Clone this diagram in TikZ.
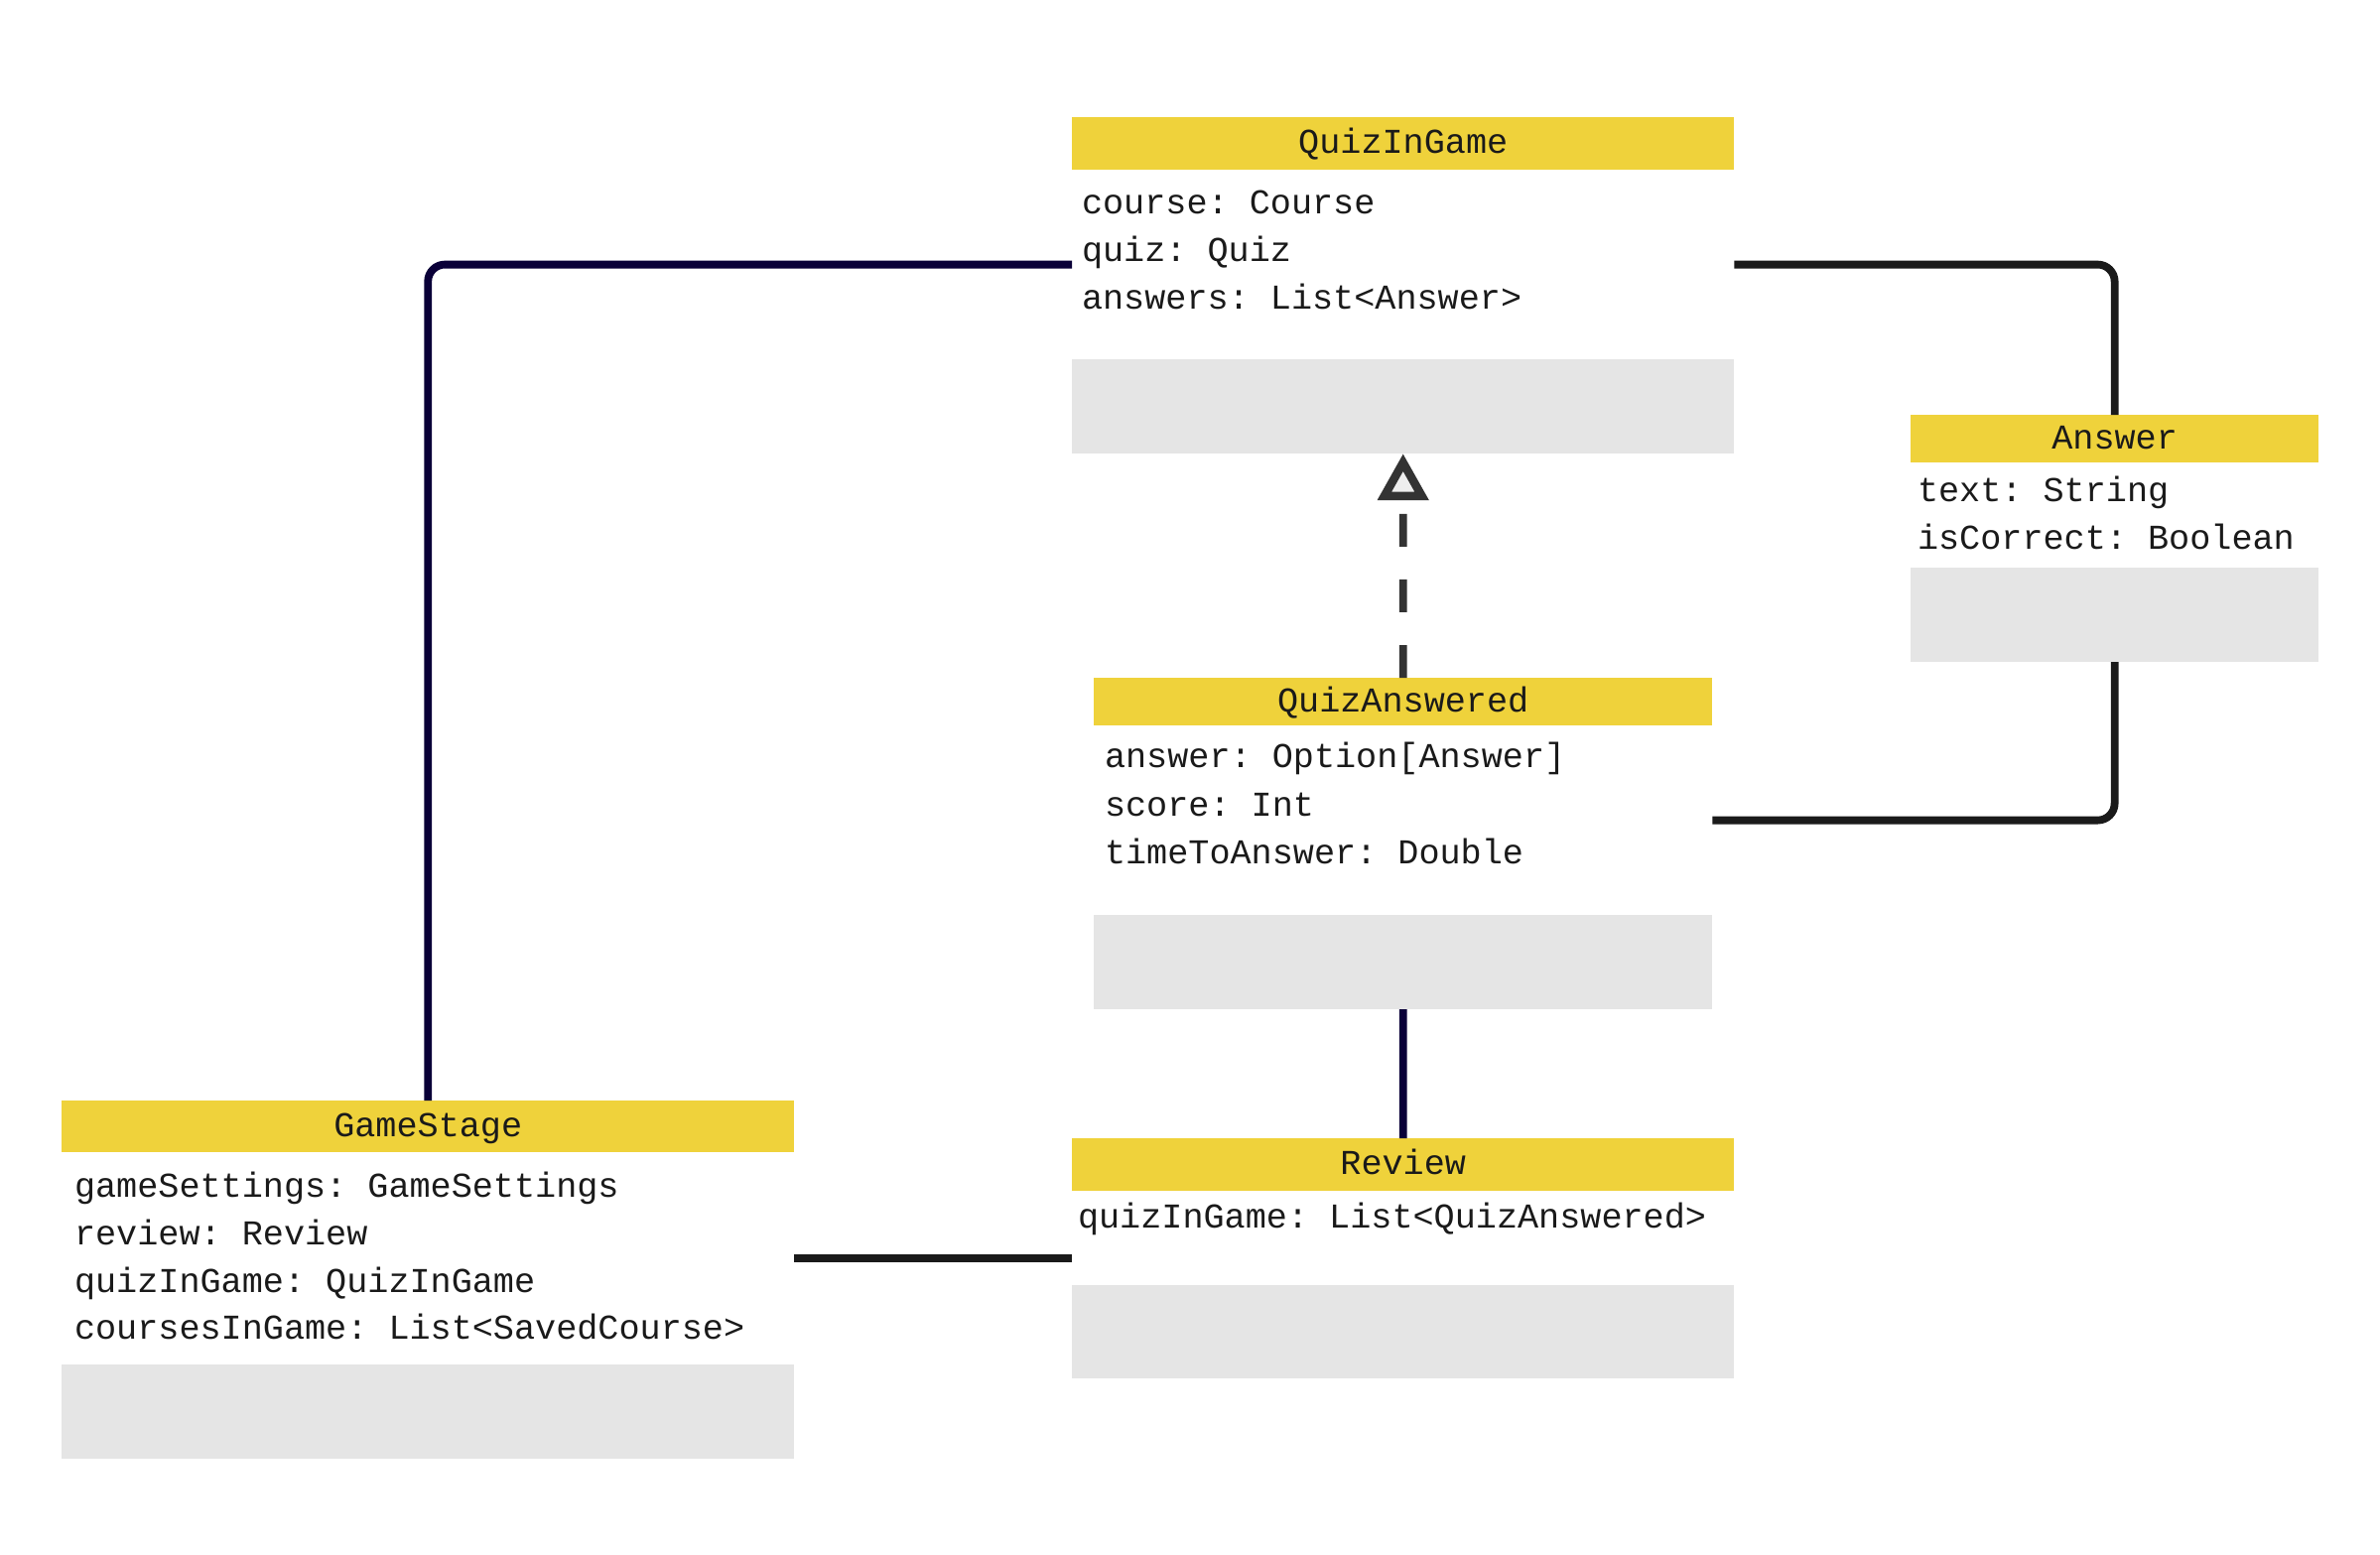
\documentclass[tikz,border=0pt]{standalone}
\usepackage{fontspec}
\setmonofont{Liberation Mono}
\usetikzlibrary{positioning,calc,arrows.meta}
\definecolor{headyellow}{HTML}{EFD23B}
\definecolor{opsgrey}{HTML}{E5E5E5}
\definecolor{navyline}{HTML}{0A0038}
\definecolor{darkline}{HTML}{1A1A1A}
\definecolor{inkgrey}{HTML}{333333}
\definecolor{tipfill}{HTML}{EEEEEE}

\begin{document}
\begin{tikzpicture}[x=0.01cm,y=-0.01cm,
  every node/.style={inner sep=0pt,outer sep=0pt,text=darkline,font=\ttfamily\fontsize{10}{12}\selectfont},
  head/.style={fill=headyellow,anchor=north west,text height=0.25cm,text depth=0.05cm},
  body/.style={},
  ops/.style={fill=opsgrey},
  attr/.style={anchor=base west},
  link/.style={line width=0.078cm,rounded corners=0.17cm}]
  \useasboundingbox (0,0) rectangle (2398,1566);

  % QuizInGame
  \node[head,minimum width=6.67cm,minimum height=0.53cm] (qigHead) at (1080,118) {QuizInGame};
  \node[body,minimum width=6.67cm,minimum height=1.91cm,below=0pt of qigHead] (qigBody) {};
  \node[ops,minimum width=6.67cm,minimum height=0.95cm,below=0pt of qigBody] (qigOps) {};
  \node[attr] (qigA) at ($(qigBody.north west)+(10,44)$) {course: Course};
  \node[attr] (qigB) at ($(qigBody.north west)+(10,92)$) {quiz: Quiz};
  \node[attr] (qigC) at ($(qigBody.north west)+(10,140)$) {answers: List<Answer>};

  % Answer
  \node[head,minimum width=4.11cm,minimum height=0.48cm] (ansHead) at (1925,418) {Answer};
  \node[body,minimum width=4.11cm,minimum height=1.06cm,below=0pt of ansHead] (ansBody) {};
  \node[ops,minimum width=4.11cm,minimum height=0.95cm,below=0pt of ansBody] (ansOps) {};
  \node[attr] (ansA) at ($(ansBody.north west)+(7,39)$) {text: String};
  \node[attr] (ansB) at ($(ansBody.north west)+(7,87)$) {isCorrect: Boolean};

  % QuizAnswered
  \node[head,minimum width=6.23cm,minimum height=0.48cm] (qaHead) at (1102,683) {QuizAnswered};
  \node[body,minimum width=6.23cm,minimum height=1.91cm,below=0pt of qaHead] (qaBody) {};
  \node[ops,minimum width=6.23cm,minimum height=0.95cm,below=0pt of qaBody] (qaOps) {};
  \node[attr] (qaA) at ($(qaBody.north west)+(11,42)$) {answer: Option[Answer]};
  \node[attr] (qaB) at ($(qaBody.north west)+(11,91)$) {score: Int};
  \node[attr] (qaC) at ($(qaBody.north west)+(11,139)$) {timeToAnswer: Double};

  % Review
  \node[head,minimum width=6.67cm,minimum height=0.53cm] (revHead) at (1080,1147) {Review};
  \node[body,minimum width=6.67cm,minimum height=0.95cm,below=0pt of revHead] (revBody) {};
  \node[ops,minimum width=6.67cm,minimum height=0.94cm,below=0pt of revBody] (revOps) {};
  \node[attr] (revA) at ($(revBody.north west)+(6,37)$) {quizInGame: List<QuizAnswered>};

  % GameStage
  \node[head,minimum width=7.38cm,minimum height=0.52cm] (gsHead) at (62,1109) {GameStage};
  \node[body,minimum width=7.38cm,minimum height=2.14cm,below=0pt of gsHead] (gsBody) {};
  \node[ops,minimum width=7.38cm,minimum height=0.95cm,below=0pt of gsBody] (gsOps) {};
  \node[attr] (gsA) at ($(gsBody.north west)+(13,45)$) {gameSettings: GameSettings};
  \node[attr] (gsB) at ($(gsBody.north west)+(13,93)$) {review: Review};
  \node[attr] (gsC) at ($(gsBody.north west)+(13,141)$) {quizInGame: QuizInGame};
  \node[attr] (gsD) at ($(gsBody.north west)+(13,188)$) {coursesInGame: List<SavedCourse>};

  % connectors
  \draw[link,navyline] (qigBody.west) -| (gsHead.north);
  \draw[link,darkline] (qigBody.east) -| (ansHead.north);
  \draw[link,darkline] (ansOps.south) |- (qaBody.east);
  \draw[link,navyline] (qaOps.south) -- (revHead.north);
  \draw[link,darkline] (gsBody.east) -- (revBody.west |- gsBody.east);
  \draw[link,inkgrey,dash pattern=on 0.33cm off 0.33cm,
        -{Triangle[open,fill=tipfill,length=0.47cm,width=0.50cm,line width=0.085cm]}] (qaHead.north) -- (qigOps.south);
\end{tikzpicture}
\end{document}
